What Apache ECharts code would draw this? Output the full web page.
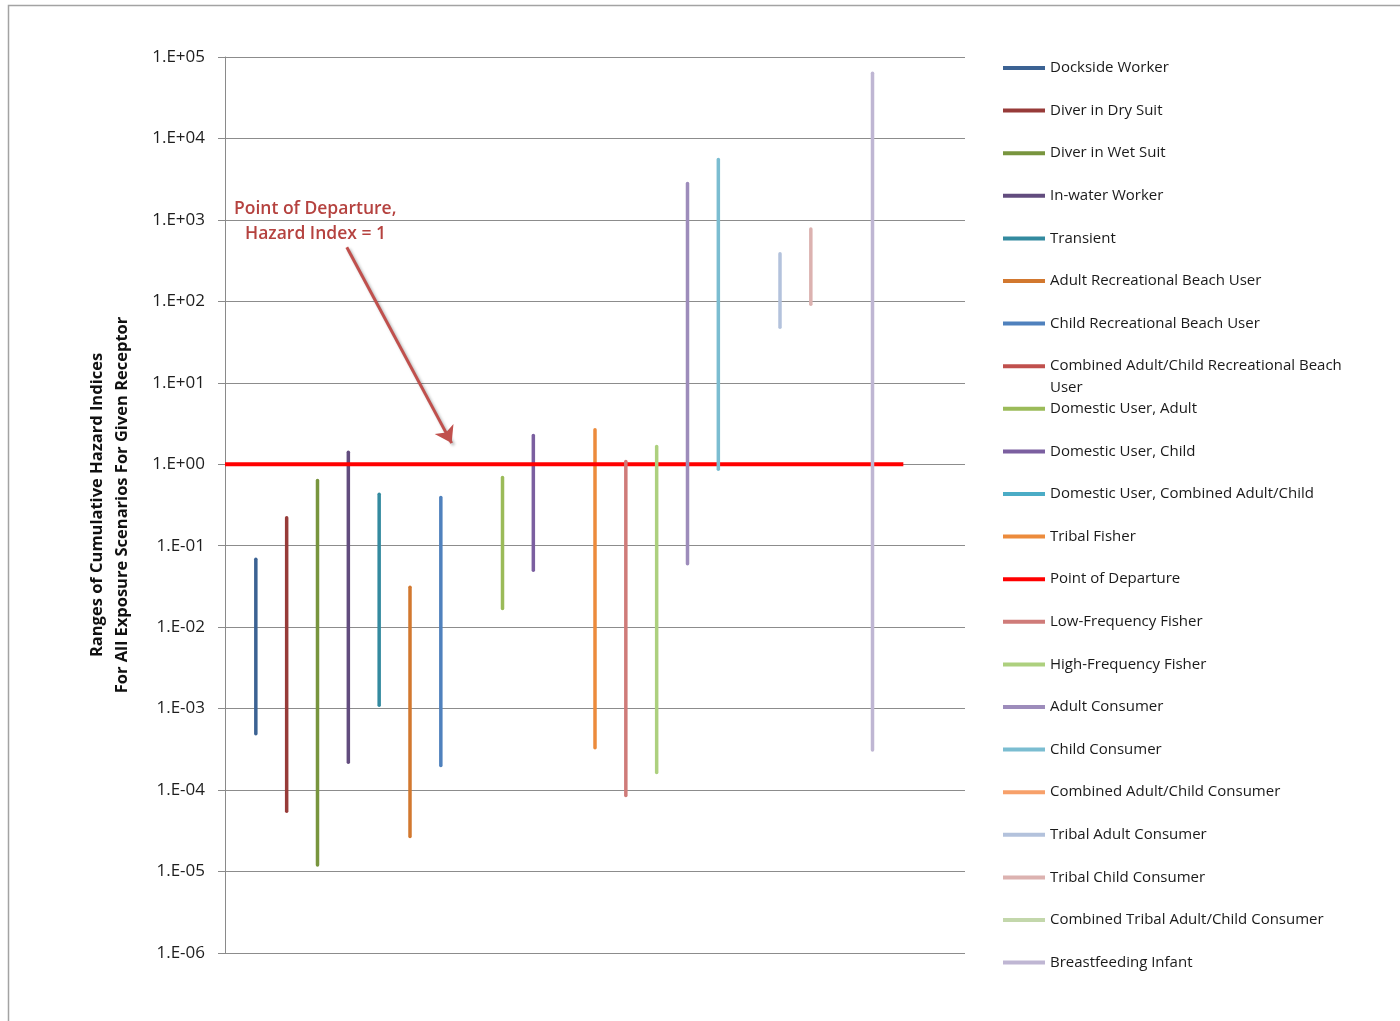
<!DOCTYPE html>
<html>
<head>
<meta charset="utf-8">
<script src="https://cdn.jsdelivr.net/npm/echarts@6/dist/echarts.min.js"></script>
<style>
  html, body { margin: 0; padding: 0; background: #ffffff; }
  #chart { width: 1400px; height: 1021px; }
</style>
</head>
<body>
<div id="chart"></div>
<script>
// Exposure scenarios (receptors), each drawn as a vertical low-high range
const receptors = [
  'Dockside Worker',
  'Diver in Dry Suit',
  'Diver in Wet Suit',
  'In-water Worker',
  'Transient',
  'Adult Recreational Beach User',
  'Child Recreational Beach User',
  'Combined Adult/Child Recreational Beach User',
  'Domestic User, Adult',
  'Domestic User, Child',
  'Domestic User, Combined Adult/Child',
  'Tribal Fisher',
  'Low-Frequency Fisher',
  'High-Frequency Fisher',
  'Adult Consumer',
  'Child Consumer',
  'Combined Adult/Child Consumer',
  'Tribal Adult Consumer',
  'Tribal Child Consumer',
  'Combined Tribal Adult/Child Consumer',
  'Breastfeeding Infant'
];

// Lower end of each cumulative hazard index range (null = no range plotted)
const lows = [
  4.9e-4, 5.5e-5, 1.2e-5, 2.2e-4, 1.1e-3, 2.7e-5, 2.0e-4, null,
  1.7e-2, 5.0e-2, null, 3.3e-4, 8.6e-5, 1.65e-4, 6.0e-2, 0.87,
  null, 48, 92, null, 3.1e-4
];

// Upper end of each range
const highs = [
  0.068, 0.22, 0.63, 1.4, 0.43, 0.031, 0.39, null,
  0.69, 2.25, null, 2.65, 1.08, 1.65, 2800, 5500,
  null, 385, 775, null, 63000
];

const receptorColors = [
  '#3b6293', '#973b39', '#78953e', '#624c7e', '#338a9f', '#d2782f', '#4f81bd', '#c0504d',
  '#9bbb59', '#7b5fa0', '#4bacc6', '#ec8b3c', '#cf7b79', '#add07e', '#9d8cbb', '#7bbdd1',
  '#f7a06a', '#b3c2dc', '#dcb2b0', '#c3d7ab', '#bfb6d3'
];

// Reference level: hazard index of 1
const podName = 'Point of Departure';
const podValue = 1;
const podSpan = [0, 22];
const podColor = '#ff0000';

const yTickLabels = [
  '1.E-06', '1.E-05', '1.E-04', '1.E-03', '1.E-02', '1.E-01',
  '1.E+00', '1.E+01', '1.E+02', '1.E+03', '1.E+04', '1.E+05'
];

const fontFamily = '"Open Sans", Lato, "Liberation Sans", sans-serif';

// Series: one vertical segment per receptor, plus the reference line
const series = [];
const legendNames = [];
receptors.forEach((name, i) => {
  const data = lows[i] == null ? [] : [[i + 1, lows[i]], [i + 1, highs[i]]];
  series.push({
    name: name,
    type: 'line',
    data: data,
    symbol: 'none',
    z: 2,
    lineStyle: { color: receptorColors[i], width: 3.5, cap: 'round' },
    itemStyle: { color: receptorColors[i] },
    emphasis: { disabled: true }
  });
  legendNames.push(name);
  if (name === 'Tribal Fisher') {
    series.push({
      name: podName,
      type: 'line',
      data: [[podSpan[0], podValue], [podSpan[1], podValue]],
      symbol: 'none',
      z: 2,
      lineStyle: { color: podColor, width: 4 },
      itemStyle: { color: podColor },
      emphasis: { disabled: true },
      markLine: {
        silent: true,
        symbol: ['none', 'arrow'],
        symbolSize: 16,
        label: { show: false },
        itemStyle: { color: '#c0504d' },
        lineStyle: {
          color: '#c0504d', width: 3, type: 'solid',
          shadowColor: 'rgba(0,0,0,0.3)', shadowBlur: 3, shadowOffsetX: 2, shadowOffsetY: 2
        },
        data: [[{ coord: [3.95, 462] }, { coord: [7.35, 1.82] }]]
      }
    });
    legendNames.push(podName);
  }
});

// One legend block per entry, so rows stay evenly spaced even when a label wraps
const legendRowStart = 68;
const legendRowStep = 42.6;
const legends = legendNames.map((name, i) => {
  const wrapped = name === 'Combined Adult/Child Recreational Beach User';
  const center = legendRowStart + legendRowStep * i;
  return {
    data: [name],
    left: 1003,
    top: wrapped ? center - 33 : center - 11,
    padding: 0,
    icon: 'rect',
    itemWidth: 42,
    itemHeight: 4,
    selectedMode: false,
    formatter: wrapped ? () => '\nCombined Adult/Child Recreational Beach\nUser' : '{name}',
    textStyle: { fontFamily: fontFamily, fontSize: 15, color: '#1a1a1a', lineHeight: 22 }
  };
});

const chart = echarts.init(document.getElementById('chart'), null, { renderer: 'canvas' });
chart.setOption({
  animation: false,
  backgroundColor: '#ffffff',
  grid: { left: 225, top: 57, width: 740, height: 896, containLabel: false },
  xAxis: { type: 'value', min: 0, max: 24, show: false },
  yAxis: {
    type: 'log',
    logBase: 10,
    min: 1e-6,
    max: 1e5,
    interval: 1,
    name: 'Ranges of Cumulative Hazard Indices\nFor All Exposure Scenarios For Given Receptor',
    nameLocation: 'middle',
    nameRotate: 90,
    nameGap: 90,
    nameTextStyle: { fontFamily: fontFamily, fontSize: 16.5, fontWeight: 'bold', color: '#111111', lineHeight: 25 },
    axisLine: { show: true, lineStyle: { color: '#8a8a8a', width: 1 } },
    axisTick: { show: true, length: 7, lineStyle: { color: '#8a8a8a' } },
    splitLine: { show: true, lineStyle: { color: '#8c8c8c', width: 1 } },
    axisLabel: {
      margin: 20,
      fontFamily: fontFamily,
      fontSize: 17,
      color: '#1e1e1e',
      formatter: v => yTickLabels[Math.round(Math.log10(v)) + 6]
    }
  },
  legend: legends,
  series: series,
  graphic: [
    {
      type: 'rect',
      silent: true,
      shape: { x: 8.5, y: 5.5, width: 1500, height: 1100 },
      style: { fill: 'none', stroke: '#a3a3a3', lineWidth: 1.5 },
      z: -1
    },
    {
      type: 'text',
      left: 234,
      top: 200,
      silent: true,
      style: { text: 'Point of Departure,', fontFamily: fontFamily, fontSize: 17.5, fontWeight: 600, fill: '#b5423f' }
    },
    {
      type: 'text',
      left: 245,
      top: 225,
      silent: true,
      style: { text: 'Hazard Index = 1', fontFamily: fontFamily, fontSize: 17.5, fontWeight: 600, fill: '#b5423f' }
    }
  ]
});
</script>
</body>
</html>
